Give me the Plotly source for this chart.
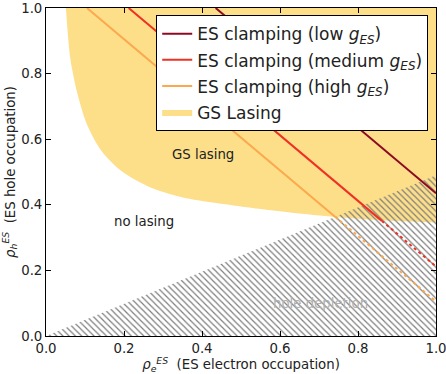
import plotly.graph_objects as go

# GS lasing threshold boundary (rho_e, rho_h)
gs_x = [0.051, 0.062, 0.079, 0.105, 0.143, 0.194, 0.271, 0.356, 0.460, 0.546, 0.631, 0.742, 0.861, 1.0]
gs_y = [1.0, 0.848, 0.746, 0.645, 0.563, 0.502, 0.451, 0.421, 0.402, 0.388, 0.376, 0.363, 0.353, 0.346]

# upper edge of the GS lasing region
top_x = [0.051, 1.0]
top_y = [1.0, 1.0]

# ES clamping lines: solid part (inside GS lasing region) and dotted continuation
low_x, low_y = [0.435, 1.0], [1.0, 0.435]
med_x, med_y = [0.212, 0.861], [1.0, 0.351]
med_dot_x, med_dot_y = [0.861, 1.0], [0.351, 0.212]
high_x, high_y = [0.105, 0.742], [1.0, 0.363]
high_dot_x, high_dot_y = [0.742, 1.0], [0.363, 0.105]

# hole depletion triangle
dep_x = [0.0, 1.0, 1.0, 0.0]
dep_y = [0.0, 0.0, 0.49, 0.0]

tick_vals = [0.0, 0.2, 0.4, 0.6, 0.8, 1.0]
tick_text = ["0.0", "0.2", "0.4", "0.6", "0.8", "1.0"]

C_LOW = "#8e0a24"
C_MED = "#ee3124"
C_HIGH = "#fca84c"
C_GS = "#fddf8a"

FONT = "DejaVu Sans"

fig = go.Figure()

# GS lasing region: filled between the top edge and the threshold curve
fig.add_trace(go.Scatter(
    x=top_x, y=top_y, mode="lines", line=dict(width=0, color=C_GS),
    showlegend=False, hoverinfo="skip"))
fig.add_trace(go.Scatter(
    x=gs_x, y=gs_y, fill="tonexty", fillcolor=C_GS, mode="lines",
    line=dict(width=0, color=C_GS, shape="spline", smoothing=0.8),
    name="GS Lasing", legendrank=4, legendgroup="gs", hoverinfo="skip"))

# hatched hole-depletion region
fig.add_trace(go.Scatter(
    x=dep_x, y=dep_y, fill="toself", mode="lines",
    line=dict(width=0, color="rgba(0,0,0,0)"),
    fillcolor="rgba(0,0,0,0)",
    fillpattern=dict(shape="\\", fgcolor="#7d7d7d", bgcolor="rgba(0,0,0,0)",
                     size=4.4, solidity=0.28, fillmode="replace"),
    showlegend=False, hoverinfo="skip"))

fig.add_trace(go.Scatter(x=low_x, y=low_y, mode="lines",
                         line=dict(color=C_LOW, width=2), legendgroup="low",
                         name="ES clamping (low <i>g</i><sub><i>ES</i></sub>)", legendrank=1))
fig.add_trace(go.Scatter(x=med_x, y=med_y, mode="lines",
                         line=dict(color=C_MED, width=2), legendgroup="med",
                         name="ES clamping (medium <i>g</i><sub><i>ES</i></sub>)", legendrank=2))
fig.add_trace(go.Scatter(x=med_dot_x, y=med_dot_y, mode="lines",
                         line=dict(color=C_MED, width=2, dash="dot"), legendgroup="med",
                         showlegend=False))
fig.add_trace(go.Scatter(x=high_x, y=high_y, mode="lines",
                         line=dict(color=C_HIGH, width=2), legendgroup="high",
                         name="ES clamping (high <i>g</i><sub><i>ES</i></sub>)", legendrank=3))
fig.add_trace(go.Scatter(x=high_dot_x, y=high_dot_y, mode="lines",
                         line=dict(color=C_HIGH, width=2, dash="dot"), legendgroup="high",
                         showlegend=False))

fig.add_annotation(x=0.402, y=0.552, text="GS lasing", showarrow=False,
                   font=dict(family=FONT, size=13.3, color="#222"))
fig.add_annotation(x=0.252, y=0.35, text="no lasing", showarrow=False,
                   font=dict(family=FONT, size=13.3, color="#222"))
fig.add_annotation(x=0.703, y=0.10, text="hole depletion", showarrow=False,
                   font=dict(family=FONT, size=13.3, color="#b0b0b0"))

axis_common = dict(
    range=[0, 1], tickvals=tick_vals, ticktext=tick_text,
    ticks="inside", ticklen=5, tickwidth=1, tickcolor="black",
    showline=True, linecolor="black", linewidth=1, mirror="ticks",
    showgrid=False, zeroline=False, automargin=False,
    ticklabeloverflow="allow",
    tickfont=dict(family=FONT, size=13.3, color="#222"),
)

fig.update_xaxes(**axis_common,
                 title=dict(text="<i>ρ</i><sub><i>e</i></sub><sup><i>ES</i></sup>  (ES electron occupation)",
                            font=dict(family=FONT, size=13.3, color="#222"), standoff=0))
fig.update_yaxes(**axis_common,
                 title=dict(text="<i>ρ</i><sub><i>h</i></sub><sup><i>ES</i></sup>  (ES hole occupation)",
                            font=dict(family=FONT, size=13.3, color="#222"), standoff=4))

fig.update_layout(
    width=446, height=374,
    margin=dict(l=46, r=10, t=8, b=38),
    paper_bgcolor="white", plot_bgcolor="white",
    font=dict(family=FONT, color="#222"),
    legend=dict(x=0.98, y=0.978, xanchor="right", yanchor="top",
                bgcolor="white", bordercolor="black", borderwidth=1,
                font=dict(family=FONT, size=17, color="#222"),
                tracegroupgap=1, itemwidth=30),
)

fig.write_html("out.html")
